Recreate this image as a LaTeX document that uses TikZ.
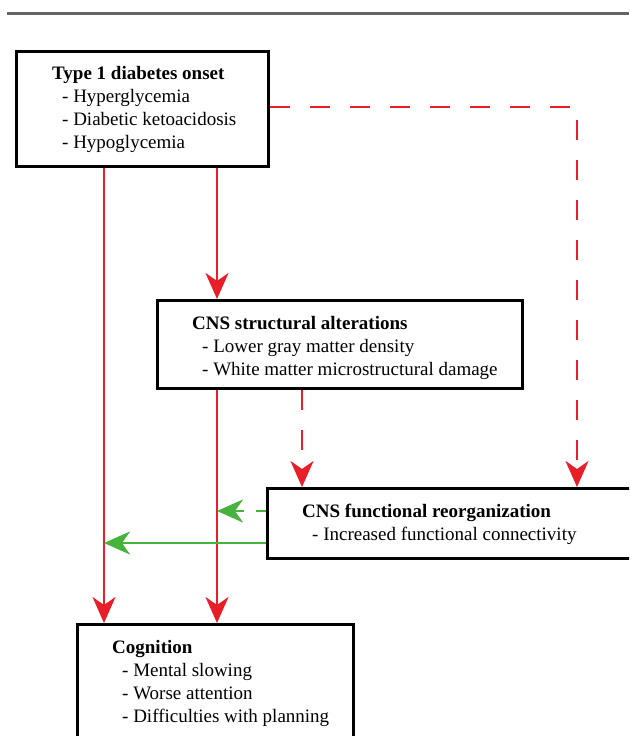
\documentclass[tikz,border=0pt]{standalone}
\usepackage{fontspec}
\setmainfont{Liberation Serif}
\usetikzlibrary{arrows.meta}

\definecolor{arrowred}{RGB}{232,30,40}
\definecolor{arrowgreen}{RGB}{70,180,60}
\definecolor{rulegray}{RGB}{100,100,100}

\tikzset{
  box/.style={draw, line width=2.5pt, inner sep=0pt, anchor=north west},
  txt/.style={inner sep=0pt, anchor=base west, align=left,
    font=\fontsize{19}{22.7}\selectfont},
  headed/.style={-{Stealth[length=26pt,width=23pt,inset=8pt]}},
  redline/.style={arrowred, line width=2.8pt, headed},
  greenline/.style={arrowgreen, line width=2.5pt, headed},
  reddashed/.style={dash pattern=on 20pt off 20pt},
  greendashed/.style={dash pattern=on 10pt off 12pt},
}

\begin{document}
\begin{tikzpicture}[x=1pt, y=-1pt]
    \def\xa{104}
    \def\xb{217}
    \def\xc{302}
    \def\xd{577}

    \useasboundingbox (0,0) rectangle (629,736);
    \clip (0,0) rectangle (629,736);

    \draw[rulegray, line width=3pt] (7,13) -- (629,13);

    \node[box, minimum width=252pt, minimum height=115pt] (onset) at (15,50) {};
    \node[box, minimum width=365pt, minimum height=88pt] (struct) at (156,299) {};
    \node[box, minimum width=380pt, minimum height=70pt] (reorg) at (266,487) {};
    \node[box, minimum width=276pt, minimum height=140pt] (cognition) at (76,623) {};

    % base of the last line
    \node[txt] (onsettext) at (52,148) {\textbf{Type 1 diabetes onset}\\
      \hspace*{10pt}- Hyperglycemia\\
      \hspace*{10pt}- Diabetic ketoacidosis\\
      \hspace*{10pt}- Hypoglycemia};
    \node[txt] (structtext) at (192,375) {\textbf{CNS structural alterations}\\
      \hspace*{10pt}- Lower gray matter density\\
      \hspace*{10pt}- White matter microstructural damage};
    \node[txt] (reorgtext) at (302,540) {\textbf{CNS functional reorganization}\\
      \hspace*{10pt}- Increased functional connectivity};
    \node[txt] (cogtext) at (112,722) {\textbf{Cognition}\\
      \hspace*{10pt}- Mental slowing\\
      \hspace*{10pt}- Worse attention\\
      \hspace*{10pt}- Difficulties with planning};

    \coordinate (ca) at (\xa,0);
    \coordinate (cb) at (\xb,0);
    \coordinate (cc) at (\xc,0);
    \coordinate (cd) at (\xd,107);
    \coordinate (ga) at (0,511);
    \coordinate (gb) at (0,543);

    % red links
    \draw[redline] (onset.south -| ca) -- (cognition.north -| ca);
    \draw[redline] (onset.south -| cb) -- (struct.north -| cb);
    \draw[redline] (struct.south -| cb) -- (cognition.north -| cb);
    \draw[redline, reddashed] (onset.east |- cd) -| (reorg.north -| cd);
    \draw[redline, reddashed] (struct.south -| cc) -- (reorg.north -| cc);

    % green links
    \draw[greenline, greendashed] (reorg.west |- ga) -- (cb |- ga);
    \draw[greenline] (reorg.west |- gb) -- (ca |- gb);
\end{tikzpicture}
\end{document}
